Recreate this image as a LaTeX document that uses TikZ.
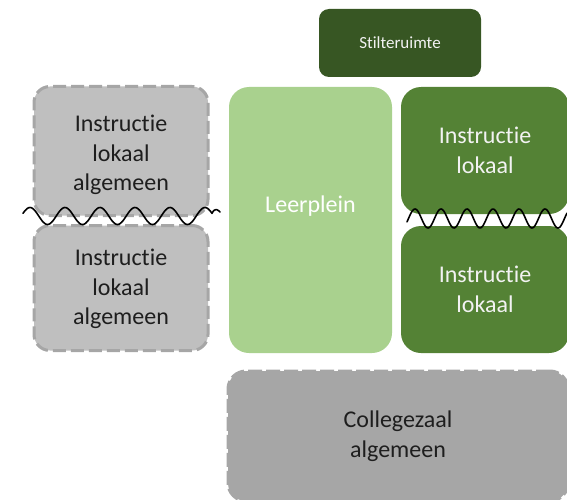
\documentclass[tikz,border=0pt]{standalone}
\usepackage{fontspec}
\setmainfont{Carlito}[Ligatures={NoCommon}]
\definecolor{darkgreen}{HTML}{375623}
\definecolor{midgreen}{HTML}{548235}
\definecolor{lightgreen}{HTML}{A9D18E}
\definecolor{lightgray}{HTML}{BFBFBF}
\definecolor{lgborder}{HTML}{A6A6A6}
\definecolor{midgray}{HTML}{A6A6A6}
\definecolor{txtdark}{HTML}{1E1E1E}
\definecolor{txtlight}{HTML}{F2F2F2}
\begin{document}
\begin{tikzpicture}[x=1pt,y=-1pt,
  roombox/.style={rectangle, rounded corners=#1, inner sep=0pt, align=center,
    font=\fontsize{24}{29.5}\selectfont},
  greenbox/.style={roombox=20pt, fill=midgreen, text=txtlight},
  graybox/.style={roombox=16pt, fill=lightgray, draw=lgborder, line width=3pt,
    dash pattern=on 13pt off 5pt, text=txtdark},
  bigbox/.style={roombox=18pt, fill=midgray, draw=midgray, line width=3pt,
    dash pattern=on 14pt off 4pt, text=txtdark},
  wave/.style={black, line width=1.6pt, line join=round, line cap=round}
]
\useasboundingbox (0,0) rectangle (567,500);

% Stilteruimte
\node[roombox=10pt, fill=darkgreen, text=txtlight, minimum width=162pt, minimum height=68pt,
  font=\fontsize{17}{20}\selectfont] (stil) at (400,43) {Stilteruimte};

% left gray boxes
\node[graybox, minimum width=174pt, minimum height=129pt] (lt) at (121,151) {};
\node[align=center, text=txtdark, font=\fontsize{24}{29.5}\selectfont] (lttxt) at (121,155) {Instructie\\lokaal\\algemeen};
\node[graybox, minimum width=174pt, minimum height=125pt] (lb) at (121,288) {};
\node[align=center, text=txtdark, font=\fontsize{24}{29.5}\selectfont] (lbtxt) at (121,289) {Instructie\\lokaal\\algemeen};

% Leerplein
\node[roombox=20pt, fill=lightgreen, minimum width=163pt, minimum height=266pt] (leer) at (310.5,220) {};
\node[text=white, font=\fontsize{24}{29.5}\selectfont] (leertxt) at (310.5,206) {Leerplein};

% right green boxes
\node[greenbox, minimum width=168pt, minimum height=127pt] (rt) at (485,150.5) {Instructie\\lokaal};
\node[greenbox, minimum width=168pt, minimum height=127pt] (rb) at (485,289.5) {Instructie\\lokaal};

% Collegezaal
\node[bigbox, minimum width=340pt, minimum height=130pt] (coll) at (398,436) {Collegezaal\\algemeen};

% wavy break lines
\draw[wave] plot[domain=23:212, samples=160, smooth] (\x, {216 - 8.5*sin((\x-30)/35*360 + 90)})
  .. controls (215,207) and (218,210) .. (220,212);
\draw[wave] plot[domain=407:567, samples=160, smooth] (\x, {218.5 - 9.5*sin((\x-415)/26*360 + 90)});
\end{tikzpicture}
\end{document}
